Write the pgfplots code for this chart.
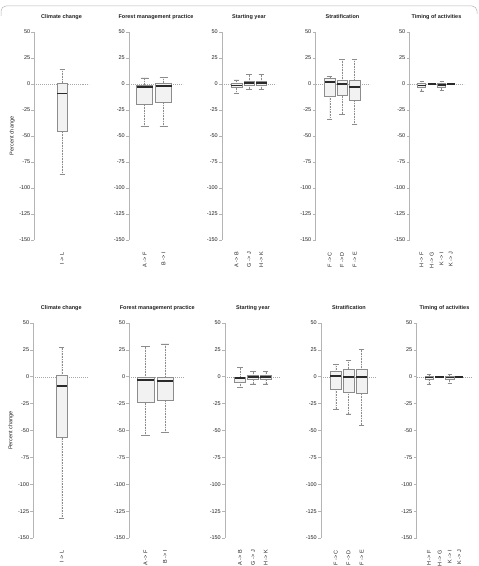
\documentclass[border=0pt]{standalone}
\usepackage{pgfplots}
\pgfplotsset{compat=1.18}
\usepgfplotslibrary{statistics}
\usepackage{fontspec}
\setmainfont{Liberation Sans}
\definecolor{boxfill}{HTML}{F2F2F2}
\definecolor{boxline}{HTML}{8C8C8C}
\definecolor{axisgray}{HTML}{B4B4B4}
\definecolor{zerogray}{HTML}{A8A8A8}
\definecolor{txt}{HTML}{222222}
\definecolor{med}{HTML}{2A2A2A}
\newcommand{\fs}{\fontsize{5.5}{6.5}\selectfont}
\pgfplotsset{
  panel/.style={
    scale only axis, width=54pt, height=208pt,
    xmin=0, xmax=54, ymin=-150, ymax=50,
    axis x line*=bottom, axis y line*=left,
    x axis line style={draw=none},
    y axis line style={draw=axisgray, line width=0.9pt},
    ytick={-150,-125,...,50},
    yticklabels={-150,-125,-100,-75,-50,-25,0,25,50},
    ytick style={draw=axisgray, line width=0.6pt},
    tick align=outside,
    major tick length=3pt,
    xtick style={draw=none},
    yticklabel style={font=\fs, text=txt, inner sep=1pt},
    xticklabel style={font=\fs, text=txt, rotate=90, anchor=east, inner sep=1pt},
    xticklabel shift=8pt,
    ylabel style={font=\fs, text=txt, xshift=0pt},
    title style={font=\fs\bfseries, text=txt, at={(0.5,1)}, anchor=base, inner sep=0pt, yshift=7pt},
    clip=false,
    boxplot/draw direction=y,
  },
  toprow/.style={panel, width=54pt, height=208pt},
  botrow/.style={panel, width=56pt, height=215pt},
  bxs/.style={
    draw=boxline, fill=boxfill, line width=0.5pt,
    boxplot/every median/.style={draw=med, line width=1.7pt},
    boxplot/draw/lower whisker/.code={
      \draw[boxline, line width=0.5pt, dash pattern=on 0.8pt off 0.8pt]
        (boxplot box cs:\pgfplotsboxplotvalue{lower whisker},0.5) --
        (boxplot box cs:\pgfplotsboxplotvalue{lower quartile},0.5);
      \draw[boxline, line width=0.5pt]
        (boxplot whisker cs:\pgfplotsboxplotvalue{lower whisker},0) --
        (boxplot whisker cs:\pgfplotsboxplotvalue{lower whisker},1);
    },
    boxplot/draw/upper whisker/.code={
      \draw[boxline, line width=0.5pt, dash pattern=on 0.8pt off 0.8pt]
        (boxplot box cs:\pgfplotsboxplotvalue{upper whisker},0.5) --
        (boxplot box cs:\pgfplotsboxplotvalue{upper quartile},0.5);
      \draw[boxline, line width=0.5pt]
        (boxplot whisker cs:\pgfplotsboxplotvalue{upper whisker},0) --
        (boxplot whisker cs:\pgfplotsboxplotvalue{upper whisker},1);
    },
  },
}
% \bx{position}{width}{lower whisker}{lower quartile}{median}{upper quartile}{upper whisker}
\newcommand{\bx}[7]{\addplot[bxs, boxplot prepared={draw position=#1, box extend=#2, whisker extend=#2*0.5, lower whisker=#3, lower quartile=#4, median=#5, upper quartile=#6, upper whisker=#7}] coordinates {};}
\newcommand{\zl}{\addplot[zerogray, line width=0.5pt, dash pattern=on 1pt off 1pt] coordinates {(0,0) (54,0)};}

\begin{document}
\begin{tikzpicture}
\path[use as bounding box] (0,0) rectangle (479pt,566pt);
\draw[axisgray, line width=0.5pt, rounded corners=5pt] (1pt,550pt) -- (1pt,560pt) -- (477pt,560pt) -- (477pt,552pt);

% ---------------- top row ----------------
\begin{axis}[toprow, at={(34.5pt,326pt)}, anchor=south west, title={Climate change}, ylabel={Percent change},
  xtick={27.5}, xticklabels={I -> L}]
\zl
\bx{27.5}{10}{-87}{-45}{-9}{1}{14}
\end{axis}

\begin{axis}[toprow, at={(129pt,326pt)}, anchor=south west, title={Forest management practice},
  xtick={15.7,34.5}, xticklabels={A -> F, B -> I}]
\zl
\bx{15.7}{16}{-41}{-19}{-3}{-1}{6}
\bx{34.5}{16}{-41}{-18}{-2}{0.6}{6.4}
\end{axis}

\begin{axis}[toprow, at={(222pt,326pt)}, anchor=south west, title={Starting year},
  xtick={14.5,27.1,39.3}, xticklabels={A -> B, G -> J, H -> K}]
\zl
\bx{14.5}{10.5}{-9}{-3}{-1.3}{1}{4}
\bx{27.1}{10.5}{-5}{-1}{0.7}{3}{9}
\bx{39.3}{10.5}{-5}{-1}{1}{3}{9}
\end{axis}

\begin{axis}[toprow, at={(315.5pt,326pt)}, anchor=south west, title={Stratification},
  xtick={14.3,26.6,39.2}, xticklabels={F -> C, F -> D, F -> E}]
\zl
\bx{14.3}{10.5}{-34}{-11.5}{2}{5.5}{7}
\bx{26.6}{10.5}{-29}{-11}{0}{3.5}{24}
\bx{39.2}{10.5}{-39}{-15.7}{-2.6}{3.5}{23.7}
\end{axis}

\begin{axis}[toprow, at={(409.5pt,326pt)}, anchor=south west, title={Timing of activities},
  xtick={12,22.3,32,41.2}, xticklabels={H -> F, H -> G, K -> I, K -> J}]
\zl
\bx{12}{8}{-6.7}{-3.2}{-1.3}{0.6}{2.6}
\bx{22.3}{8}{0}{0}{0}{0}{0}
\bx{32}{8}{-6}{-3}{-1}{0.5}{2.5}
\bx{41.2}{8}{0}{0}{0}{0}{0}
\end{axis}

% ---------------- bottom row ----------------
\begin{axis}[botrow, at={(33.3pt,28pt)}, anchor=south west, title={Climate change}, ylabel={Percent change},
  xtick={27.5}, xticklabels={I -> L}]
\zl
\bx{27.5}{10}{-132}{-56.7}{-8.6}{1.6}{27}
\end{axis}

\begin{axis}[botrow, at={(129.3pt,28pt)}, anchor=south west, title={Forest management practice},
  xtick={15.7,34.5}, xticklabels={A -> F, B -> I}]
\zl
\bx{15.7}{16}{-54.8}{-23.8}{-3}{0}{28}
\bx{34.5}{16}{-52}{-21.6}{-4}{0}{30.5}
\end{axis}

\begin{axis}[botrow, at={(225pt,28pt)}, anchor=south west, title={Starting year},
  xtick={14.5,27.1,39.3}, xticklabels={A -> B, G -> J, H -> K}]
\zl
\bx{14.5}{10.5}{-10}{-5}{-1.2}{0}{8.5}
\bx{27.1}{10.5}{-6.7}{-2}{-0.5}{1}{4.7}
\bx{39.3}{10.5}{-6.7}{-2.2}{-0.5}{1}{4.7}
\end{axis}

\begin{axis}[botrow, at={(321pt,28pt)}, anchor=south west, title={Stratification},
  xtick={14.3,26.6,39.2}, xticklabels={F -> C, F -> D, F -> E}]
\zl
\bx{14.3}{10.5}{-30}{-11.4}{0.7}{5.3}{11.5}
\bx{26.6}{10.5}{-34.6}{-14.5}{0}{6.6}{15.3}
\bx{39.2}{10.5}{-45}{-15}{-0.2}{6.6}{25.2}
\end{axis}

\begin{axis}[botrow, at={(416.5pt,28pt)}, anchor=south west, title={Timing of activities},
  xtick={12,22.3,32,41.2}, xticklabels={H -> F, H -> G, K -> I, K -> J}]
\zl
\bx{12}{8}{-7}{-2.7}{-0.8}{0.7}{2}
\bx{22.3}{8}{0}{0}{0}{0}{0}
\bx{32}{8}{-6.5}{-2.7}{-0.8}{0.7}{2}
\bx{41.2}{8}{0}{0}{0}{0}{0}
\end{axis}
\end{tikzpicture}
\end{document}
